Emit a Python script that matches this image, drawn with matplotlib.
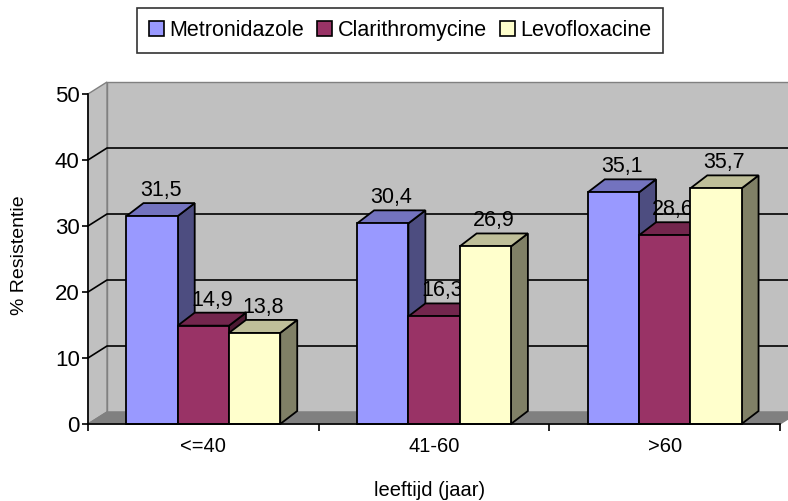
import matplotlib
matplotlib.use("Agg")
import matplotlib.pyplot as plt
from matplotlib.patches import Polygon, Patch

plt.rcParams['font.family'] = ['Liberation Sans', 'DejaVu Sans']

groups = ['<=40', '41-60', '>60']
series = ['Metronidazole', 'Clarithromycine', 'Levofloxacine']
values = [
    [31.5, 30.4, 35.1],   # Metronidazole
    [14.9, 16.3, 28.6],   # Clarithromycine
    [13.8, 26.9, 35.7],   # Levofloxacine
]
labels = [[f'{v:.1f}'.replace('.', ',') for v in row] for row in values]

front = ['#9999FF', '#993366', '#FFFFCC']
top = ['#7373BF', '#73264D', '#BFBF99']
side = ['#4D4D80', '#4D1A33', '#808066']

W, H = 788, 501
fig = plt.figure(figsize=(W / 100, H / 100), dpi=100)
ax_l, ax_b, ax_w, ax_h = 88, 424, 692, 330
ax = fig.add_axes([ax_l / W, (H - ax_b) / H, ax_w / W, ax_h / H])
ax.set_xlim(0, len(groups))
ax.set_ylim(0, 50)
ax.patch.set_visible(False)

# pixel -> data unit helpers for the fake 3D depth
px_x = len(groups) / ax_w
px_y = 50 / ax_h
wdx, wdy = 19 * px_x, 12 * px_y     # wall depth
bdx, bdy = 17 * px_x, 13 * px_y     # bar depth

n = len(groups)
# walls and floor
ax.add_patch(Polygon([(wdx, wdy), (n + wdx, wdy), (n + wdx, 50 + wdy), (wdx, 50 + wdy)],
                     closed=True, fc='#C0C0C0', ec='#808080', lw=1, clip_on=False, zorder=0))
ax.add_patch(Polygon([(0, 0), (wdx, wdy), (wdx, 50 + wdy), (0, 50)],
                     closed=True, fc='#C0C0C0', ec='#808080', lw=1, clip_on=False, zorder=0.5))
ax.add_patch(Polygon([(0, 0), (n, 0), (n + wdx, wdy), (wdx, wdy)],
                     closed=True, fc='#808080', ec='#808080', lw=1, clip_on=False, zorder=0.5))
for g in range(10, 50, 10):
    ax.plot([0, wdx, n + wdx], [g, g + wdy, g + wdy], color='black', lw=1.2,
            clip_on=False, zorder=1)

bw = 1 / 4.5
z = 3
for i in range(n):
    for j in range(len(series)):
        v = values[j][i]
        x0 = i + 0.5 + (j - 1.5) * bw
        x1 = x0 + bw
        ax.add_patch(Polygon([(x1, 0), (x1 + bdx, bdy), (x1 + bdx, v + bdy), (x1, v)],
                             closed=True, fc=side[j], ec='black', lw=1.3, zorder=z, clip_on=False))
        ax.add_patch(Polygon([(x0, v), (x1, v), (x1 + bdx, v + bdy), (x0 + bdx, v + bdy)],
                             closed=True, fc=top[j], ec='black', lw=1.3, zorder=z, clip_on=False))
        ax.add_patch(Polygon([(x0, 0), (x1, 0), (x1, v), (x0, v)],
                             closed=True, fc=front[j], ec='black', lw=1.3, zorder=z + 0.1, clip_on=False))
        ax.text((x0 + x1) / 2 + bdx / 2, v + bdy + 0.3, labels[j][i], ha='center', va='bottom',
                fontsize=15.5, zorder=z + 0.2)
        z += 1

for s in ['top', 'right']:
    ax.spines[s].set_visible(False)
ax.spines['left'].set_linewidth(1.2)
ax.spines['bottom'].set_linewidth(1.2)
ax.spines['left'].set_zorder(50)
ax.spines['bottom'].set_zorder(50)

ax.set_yticks(range(0, 51, 10))
ax.tick_params(axis='y', direction='out', length=4, width=1.2, pad=2, labelsize=16)
ax.set_xticks(range(0, n + 1))
ax.set_xticklabels([])
ax.tick_params(axis='x', which='major', direction='out', length=5, width=1.2)
ax.set_xticks([i + 0.5 for i in range(n)], minor=True)
ax.set_xticklabels(groups, minor=True)
ax.tick_params(axis='x', which='minor', length=0, pad=9, labelsize=14.5)

fig.text(430 / W, 1 - 490 / H, 'leeftijd (jaar)', ha='center', va='center', fontsize=14.5)
fig.text(20 / W, 1 - 255 / H, '% Resistentie', ha='center', va='center', rotation=90, fontsize=14)

handles = [Patch(fc=front[j], ec='black', lw=1.2) for j in range(len(series))]
leg = fig.legend(handles, series, loc='upper center', bbox_to_anchor=(400 / W, 1 - 8 / H),
                 ncol=3, fontsize=15.5, frameon=True, fancybox=False, handlelength=0.7,
                 handleheight=0.7, handletextpad=0.25, columnspacing=0.6, borderpad=0.55,
                 borderaxespad=0)
leg.get_frame().set_edgecolor('black')
leg.get_frame().set_linewidth(1.2)

fig.savefig('out.png', dpi=100)
